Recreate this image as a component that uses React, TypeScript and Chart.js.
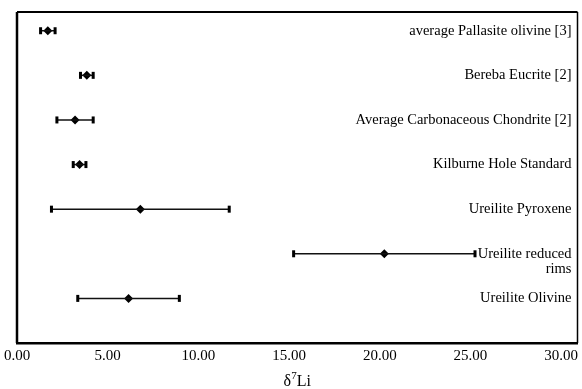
import React, { useEffect, useRef } from "react";
import { Chart, registerables } from "chart.js";

Chart.register(...registerables);

const categories = [
  ["Ureilite Olivine"],
  ["Ureilite reduced", "rims"],
  ["Ureilite Pyroxene"],
  ["Kilburne Hole Standard"],
  ["Average Carbonaceous Chondrite [2]"],
  ["Bereba Eucrite [2]"],
  ["average Pallasite olivine [3]"],
];
const rowPositions = [1, 2, 3, 4, 5, 6, 7];
const delta7Li = [6.15, 20.25, 6.8, 3.45, 3.2, 3.85, 1.7];
const errors = [2.8, 5.0, 4.9, 0.35, 1.0, 0.35, 0.4];
const xTicks = [0, 5, 10, 15, 20, 25, 30];

const FONT = "'Liberation Serif', 'Times New Roman', serif";

const errorPlugin = {
  id: "errorBarsAndLabels",
  afterDatasetsDraw(chart: any) {
    const ctx = chart.ctx;
    const xs = chart.scales.x;
    const ys = chart.scales.y;
    const area = chart.chartArea;
    ctx.save();
    ctx.strokeStyle = "#000";
    ctx.lineWidth = 2;
    ctx.beginPath();
    ctx.moveTo(area.left, area.top);
    ctx.lineTo(area.right, area.top);
    ctx.stroke();
    ctx.lineWidth = 1.5;
    ctx.beginPath();
    ctx.moveTo(area.right, area.top);
    ctx.lineTo(area.right, area.bottom);
    ctx.stroke();
    ctx.lineWidth = 2.5;
    ctx.beginPath();
    ctx.moveTo(area.left, area.top);
    ctx.lineTo(area.left, area.bottom);
    ctx.stroke();
    for (let i = 0; i < delta7Li.length; i++) {
      const y = ys.getPixelForValue(rowPositions[i]);
      const x1 = xs.getPixelForValue(delta7Li[i] - errors[i]);
      const x2 = xs.getPixelForValue(delta7Li[i] + errors[i]);
      ctx.strokeStyle = "#111";
      ctx.lineWidth = 1.5;
      ctx.beginPath();
      ctx.moveTo(x1, y);
      ctx.lineTo(x2, y);
      ctx.stroke();
      ctx.fillStyle = "#000";
      ctx.fillRect(x1 - 1.5, y - 3.5, 3, 7);
      ctx.fillRect(x2 - 1.5, y - 3.5, 3, 7);
    }
    ctx.fillStyle = "#000";
    ctx.font = `14.5px ${FONT}`;
    ctx.textAlign = "right";
    ctx.textBaseline = "middle";
    for (let i = 0; i < categories.length; i++) {
      const y = ys.getPixelForValue(rowPositions[i]);
      categories[i].forEach((line, j) => {
        ctx.fillText(line, area.right - 6, y + j * 15.5);
      });
    }
    const cx = (area.left + area.right) / 2;
    const ty = 381;
    ctx.textAlign = "left";
    ctx.textBaseline = "alphabetic";
    ctx.font = `16px ${FONT}`;
    const w1 = ctx.measureText("δ").width;
    ctx.font = `11px ${FONT}`;
    const w2 = ctx.measureText("7").width;
    ctx.font = `16px ${FONT}`;
    const w3 = ctx.measureText("Li").width;
    const start = cx - (w1 + w2 + w3) / 2;
    ctx.fillText("δ", start, ty + 5);
    ctx.font = `11px ${FONT}`;
    ctx.fillText("7", start + w1, ty - 2);
    ctx.font = `16px ${FONT}`;
    ctx.fillText("Li", start + w1 + w2, ty + 5);
    ctx.restore();
  },
};

export default function App() {
  const ref = useRef<HTMLCanvasElement>(null);
  useEffect(() => {
    document.body.style.margin = "0";
    const chart = new Chart(ref.current!, {
      type: "scatter",
      data: {
        datasets: [
          {
            data: delta7Li.map((v, i) => ({ x: v, y: rowPositions[i] })),
            pointStyle: "rectRot",
            pointRadius: 4.5,
            backgroundColor: "#000",
            borderColor: "#000",
            borderWidth: 0,
          },
        ],
      },
      options: {
        animation: false,
        responsive: false,
        layout: { padding: { left: 17, top: 12, right: 2, bottom: 0 } },
        plugins: { legend: { display: false }, tooltip: { enabled: false } },
        scales: {
          x: {
            type: "linear",
            min: 0,
            max: 30.9,
            afterBuildTicks(scale: any) {
              scale.ticks = xTicks.map((v) => ({ value: v }));
            },
            afterFit(scale: any) {
              scale.height = 46;
            },
            grid: { display: false, drawTicks: true, tickLength: 3 },
            border: { display: true, color: "#000", width: 2.5 },
            ticks: {
              color: "#000",
              font: { family: FONT, size: 15 },
              padding: 1,
              maxRotation: 0,
              callback: (v: any) => Number(v).toFixed(2),
            },
          },
          y: {
            type: "linear",
            min: 0,
            max: 7.42,
            display: false,
          },
        },
      },
      plugins: [errorPlugin],
    });
    return () => chart.destroy();
  }, []);
  return (
    <div style={{ width: 582, height: 389 }}>
      <canvas ref={ref} width={582} height={389} style={{ width: 582, height: 389 }} />
    </div>
  );
}
